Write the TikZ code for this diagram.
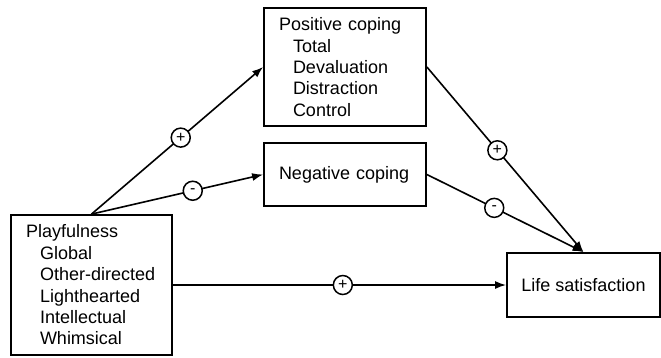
\documentclass[tikz,border=0pt]{standalone}
\usepackage{fontspec}
\setmainfont{Liberation Sans}
\usepackage{tikz}
\usetikzlibrary{arrows.meta,positioning}
\newcommand{\facet}[1]{\hspace*{14pt}#1}

\begin{document}
\begin{tikzpicture}[
  x=1pt, y=-1pt,
  >={Latex[length=11pt,width=8pt]},
  line/.style={line width=1.6pt},
  box/.style={draw, line width=1.8pt, align=left, inner xsep=15pt,
    font=\fontsize{18}{21.4}\selectfont},
  sign/.style={circle, draw, fill=white, line width=1.5pt, inner sep=0pt,
    minimum size=19pt, font=\fontsize{16}{16}\selectfont}
]
  \useasboundingbox (0,0) rectangle (661,357);

  \node[box, text width=131pt, minimum height=140pt] (play) at (91.5,285)
    {Playfulness\\\facet{Global}\\\facet{Other-directed}\\\facet{Lighthearted}\\\facet{Intellectual}\\\facet{Whimsical}};
  \node[box, text width=132pt, minimum height=118pt] (pos) at (345,67)
    {Positive coping\\\facet{Total}\\\facet{Devaluation}\\\facet{Distraction}\\\facet{Control}};
  \node[box, text width=132pt, minimum height=63pt] (neg) at (345,174.5)
    {Negative coping};
  \node[box, align=center, minimum width=153pt, minimum height=64pt, inner xsep=0pt] (life) at (583.5,285)
    {Life satisfaction};

  \draw[line, ->] (play.north) -- node[sign, pos=0.52] {+} (pos.west);
  \draw[line, ->] (play.north) -- node[sign, pos=0.59] {-} (neg.west);
  \draw[line, ->] (pos.east) -- node[sign, pos=0.45] {+} (life.north);
  \draw[line, ->] (neg.east) -- node[sign, pos=0.43] {-} (life.north);
  \draw[line, ->] (play.east) -- node[sign, pos=0.51] {+} (life.west);
\end{tikzpicture}
\end{document}
